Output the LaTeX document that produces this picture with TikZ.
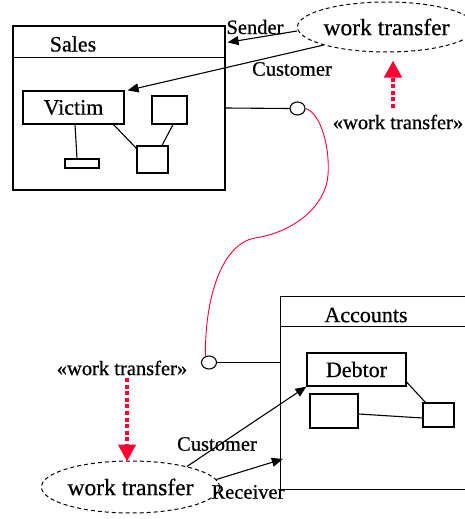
\documentclass[tikz,border=0pt]{standalone}
\usepackage{fontspec}
\setmainfont{Liberation Serif}[RawFeature={embolden=0.6}]
\usetikzlibrary{arrows.meta,shapes.geometric,calc}
\definecolor{umlred}{RGB}{255,0,51}
\tikzset{
  box/.style={draw, line width=1.2pt, inner sep=0pt},
  namefont/.style={font=\fontsize{22}{26}\selectfont},
  lblfont/.style={font=\fontsize{20.5}{24}\selectfont, inner sep=0pt},
  usecase/.style={draw, ellipse, line width=1pt, dash pattern=on 4pt off 3pt, inner sep=0pt,
                  font=\fontsize{23.5}{27}\selectfont},
  conn/.style={line width=1.1pt},
  assoc/.style={line width=1.1pt, -{Triangle[length=11pt,width=9pt]}},
  socket/.style={draw, ellipse, line width=1.1pt, minimum width=15pt, minimum height=13pt, inner sep=0pt, fill=white},
  redarrow/.style={draw=umlred, line width=4.5pt, dash pattern=on 4pt off 2.6pt,
                   -{Triangle[length=17pt,width=17pt,fill=umlred]}},
  redline/.style={draw=umlred, line width=0.9pt}
}
\begin{document}
\begin{tikzpicture}[x=1pt,y=-1pt]
\useasboundingbox (0,0) rectangle (465,519);

% Sales package
\node[box, minimum width=212pt, minimum height=164pt] (sales) at (119,108) {};
\draw[line width=1.2pt] ([yshift=-32pt]sales.north west) -- ([yshift=-32pt]sales.north east);
\node[namefont] (salesname) at (73,44) {Sales};
\node[box, namefont, minimum width=101pt, minimum height=33pt] (victim) at (73.5,107.5) {Victim};
\node[box, minimum width=34pt, minimum height=9pt] (small1) at (82,163.5) {};
\node[box, minimum width=35pt, minimum height=28pt] (boxA) at (169.5,110) {};
\node[box, minimum width=31pt, minimum height=27pt] (boxB) at (152.5,159.5) {};
\draw[conn] ([xshift=1.5pt]victim.south) -- ([xshift=-5pt]small1.north);
\draw[conn] ([xshift=-11pt]victim.south east) -- ([yshift=-3pt]boxB.north west);
\draw[conn] ([xshift=3.5pt]boxA.south) -- ([xshift=9.5pt]boxB.north);

% top use case
\node[usecase, minimum width=142pt, minimum height=50pt] (wt1) at (386.5,27) {work transfer};
\draw[assoc] ([yshift=-4pt]wt1.west) -- ([yshift=-17pt,xshift=2pt]sales.north east);
\node[lblfont] (sender) at (255,27) {Sender};
\draw[assoc] (wt1.196) -- ([xshift=3pt]victim.north east);
\node[lblfont] (cust1) at (292,69) {Customer};
\coordinate (r1) at (393,108);
\draw[redarrow] (r1) -- ($(wt1.south -| r1)+(0,8)$);
\node[lblfont] (st1) at (398,122) {«work transfer»};

% socket 1
\node[socket] (c1) at (297.5,108.5) {};
\draw[conn] (sales.east) -- (c1.west);

% Accounts package
\node[minimum width=184pt, minimum height=192pt, inner sep=0pt] (accounts) at (373,393) {};
\draw[line width=1.2pt] (accounts.north east) -- (accounts.north west) -- (accounts.south west) -- (accounts.south east);
\draw[line width=1.2pt] ([yshift=-30pt]accounts.north west) -- ([yshift=-30pt]accounts.north east);
\node[namefont] (accname) at (366,315) {Accounts};
\node[box, namefont, minimum width=99pt, minimum height=33pt] (debtor) at (356.5,369.5) {Debtor};
\node[box, minimum width=48pt, minimum height=34pt] (boxC) at (334,411) {};
\node[box, minimum width=31pt, minimum height=24pt] (boxD) at (438.5,415) {};
\draw[conn] ([yshift=-12.5pt]debtor.east) -- ([xshift=3pt]boxD.north west);
\draw[conn] ([yshift=-3pt]boxC.east) -- ([yshift=-3pt]boxD.west);

% socket 2
\node[socket] (c2) at (209,362.5) {};
\draw[conn] (c2.east) -- (c2.east -| accounts.west);

% red lollipop curve
\coordinate (m1) at (328,175);
\coordinate (m2) at (255,238);
\draw[redline] (c1.east) .. controls (322,114) and (330,150) .. (m1)
  .. controls (326,205) and (295,232) .. (m2)
  .. controls (225,243) and (205,290) .. (c2.120);

% bottom use case
\node[lblfont] (st2) at (122,368) {«work transfer»};
\node[usecase, minimum width=143pt, minimum height=52pt] (wt2) at (130.5,487) {work transfer};
\coordinate (r2) at (127,378);
\draw[redarrow] (r2) -- ($(r2 |- wt2.north)+(0,1)$);
\draw[assoc] (wt2.20) -- (debtor.south west);
\node[lblfont] (cust2) at (217,444) {Customer};
\draw[assoc] (wt2.5) -- ([yshift=-66pt,xshift=2pt]accounts.west);
\node[lblfont] (recv) at (248,492) {Receiver};
\end{tikzpicture}
\end{document}
